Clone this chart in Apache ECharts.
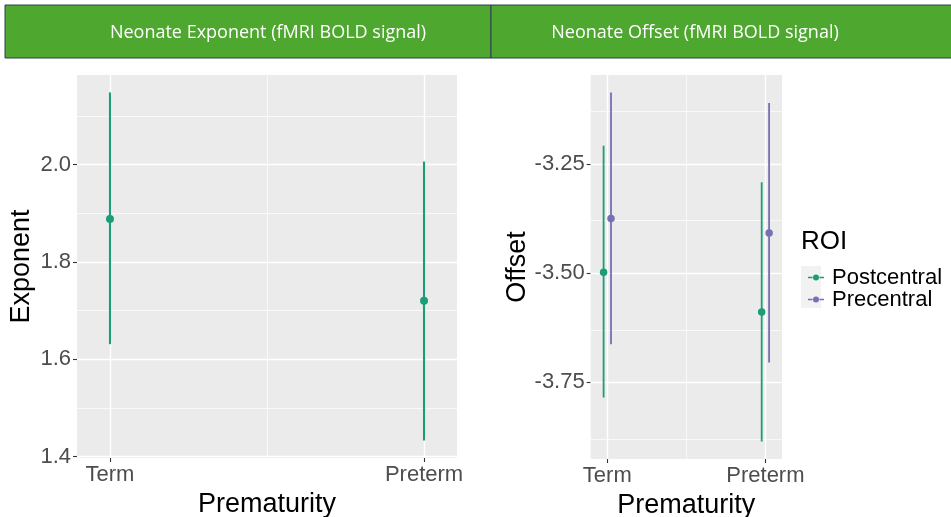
<!DOCTYPE html>
<html><head><meta charset="utf-8">
<script src="https://cdn.jsdelivr.net/npm/echarts@6/dist/echarts.min.js"></script>
<style>html,body{margin:0;padding:0;background:#fff;}#c{width:951px;height:517px;}</style>
</head><body><div id="c"></div>
<script>
// ---- data ----
const categories = ['Term', 'Preterm'];
const exponentMean = [1.888, 1.720];
const exponentLow = [1.631, 1.433];
const exponentHigh = [2.148, 2.006];
const roiNames = ['Postcentral', 'Precentral'];
const postcentralMean = [-3.498, -3.589];
const postcentralLow = [-3.785, -3.886];
const postcentralHigh = [-3.208, -3.292];
const precentralMean = [-3.375, -3.408];
const precentralLow = [-3.663, -3.705];
const precentralHigh = [-3.086, -3.110];
const exponentTicks = [1.4, 1.6, 1.8, 2.0];
const exponentMinor = [1.5, 1.7, 1.9, 2.1];
const offsetTicks = [-3.75, -3.5, -3.25];
const offsetMinor = [-3.875, -3.625, -3.375, -3.125];
const panelTitles = ['Neonate Exponent (fMRI BOLD signal)', 'Neonate Offset (fMRI BOLD signal)'];
const legendTitle = 'ROI';

// ---- styling ----
const GREEN = '#1B9E77', PURPLE = '#7570B3';
const FONT = 'Liberation Sans, Arial, sans-serif';
const xPos = categories.map((c, i) => i + 1);
const xMinor = [1.5];
const DODGE = 0.0234;

function expand(lo, hi) { const d = (hi - lo) * 0.05; return [lo - d, hi + d]; }
const expRange = expand(Math.min(...exponentLow), Math.max(...exponentHigh));
const offRange = expand(Math.min(...postcentralLow, ...precentralLow), Math.max(...postcentralHigh, ...precentralHigh));

function errRender(color, width) {
  return function (params, api) {
    const x = api.value(0), lo = api.value(1), hi = api.value(2);
    const p1 = api.coord([x, lo]), p2 = api.coord([x, hi]);
    return { type: 'line', shape: { x1: p1[0], y1: p1[1], x2: p2[0], y2: p2[1] },
      style: { stroke: color, lineWidth: width } };
  };
}
function gridLines(major, minor) {
  const d = [];
  major.forEach(v => d.push({ yAxis: v, lineStyle: { width: 1.4 } }));
  minor.forEach(v => d.push({ yAxis: v, lineStyle: { width: 0.7 } }));
  xPos.forEach(v => d.push({ xAxis: v, lineStyle: { width: 1.4 } }));
  xMinor.forEach(v => d.push({ xAxis: v, lineStyle: { width: 0.7 } }));
  return { silent: true, z: 1, symbol: ['none', 'none'], label: { show: false },
    lineStyle: { color: '#ffffff', type: 'solid' }, animation: false, data: d };
}
function xAxisCfg(gi) {
  return {
    type: 'value', gridIndex: gi, min: 0.895, max: 2.105,
    axisLine: { show: false }, splitLine: { show: false },
    axisTick: { show: true, customValues: xPos, length: 4, lineStyle: { color: '#333333', width: 1.1 } },
    axisLabel: { customValues: xPos, formatter: v => categories[Math.round(v) - 1], fontSize: 22,
      color: '#4d4d4d', margin: 6, fontFamily: FONT },
    name: 'Prematurity', nameLocation: 'middle', nameGap: 25,
    nameTextStyle: { fontSize: 27, color: '#000', fontFamily: FONT }
  };
}
function yAxisCfg(gi, range, ticks, name, gap, dec) {
  return {
    type: 'value', gridIndex: gi, min: range[0], max: range[1],
    axisLine: { show: false }, splitLine: { show: false },
    axisTick: { show: true, customValues: ticks, length: 4, lineStyle: { color: '#333333', width: 1.1 } },
    axisLabel: { customValues: ticks, formatter: v => v.toFixed(dec), fontSize: 22, color: '#4d4d4d',
      margin: 6, fontFamily: FONT },
    name: name, nameLocation: 'middle', nameGap: gap, nameRotate: 90,
    nameTextStyle: { fontSize: 27, color: '#000', fontFamily: FONT }
  };
}

const legendIcon = 'path://M0,2.2H4.6V3.8H0Z M11.4,2.2H16V3.8H11.4Z M5,3A3,3 0 1 1 11,3A3,3 0 1 1 5,3Z';

const option = {
  animation: false,
  backgroundColor: '#ffffff',
  grid: [
    { left: 77, top: 75, width: 380, height: 383, show: true, backgroundColor: '#EBEBEB', borderWidth: 0,
      containLabel: false, outerBoundsMode: 'none' },
    { left: 590.7, top: 75, width: 191.3, height: 384, show: true, backgroundColor: '#EBEBEB', borderWidth: 0,
      containLabel: false, outerBoundsMode: 'none' }
  ],
  xAxis: [xAxisCfg(0), xAxisCfg(1)],
  yAxis: [
    yAxisCfg(0, expRange, exponentTicks, 'Exponent', 42, 1),
    yAxisCfg(1, offRange, offsetTicks, 'Offset', 59, 2)
  ],
  legend: {
    orient: 'vertical', left: 803, top: 261.5, itemWidth: 16, itemHeight: 6, itemGap: 0,
    selectedMode: false,
    data: roiNames.map(n => ({ name: n, icon: legendIcon })),
    textStyle: { fontSize: 22, color: '#000', fontFamily: FONT, lineHeight: 18, padding: [0, 0, 0, 3] }
  },
  graphic: [
    { type: 'rect', shape: { x: 5, y: 5, width: 486, height: 53 }, style: { fill: '#4EA72E', stroke: '#2F3E4E', lineWidth: 1 } },
    { type: 'rect', shape: { x: 491, y: 5, width: 470, height: 53 }, style: { fill: '#4EA72E', stroke: '#2F3E4E', lineWidth: 1 } },
    { type: 'text', x: 268, y: 33, style: { text: panelTitles[0], fill: '#ffffff', font: '18px "Open Sans", sans-serif', textAlign: 'center', textVerticalAlign: 'middle' } },
    { type: 'text', x: 695, y: 33, style: { text: panelTitles[1], fill: '#ffffff', font: '18px "Open Sans", sans-serif', textAlign: 'center', textVerticalAlign: 'middle' } },
    { type: 'rect', shape: { x: 801, y: 266, width: 20, height: 42 }, style: { fill: '#F2F2F2' } },
    { type: 'text', x: 801, y: 242, style: { text: legendTitle, fill: '#000', font: '26px "Liberation Sans", Arial, sans-serif', textVerticalAlign: 'middle' } }
  ],
  series: [
    { type: 'scatter', xAxisIndex: 0, yAxisIndex: 0, data: [], z: 1, markLine: gridLines(exponentTicks, exponentMinor) },
    { type: 'scatter', xAxisIndex: 1, yAxisIndex: 1, data: [], z: 1, markLine: gridLines(offsetTicks, offsetMinor) },
    { type: 'custom', name: 'expErr', xAxisIndex: 0, yAxisIndex: 0, z: 6, renderItem: errRender(GREEN, 2.1),
      encode: { x: 0, y: [1, 2] }, data: xPos.map((x, i) => [x, exponentLow[i], exponentHigh[i]]) },
    { type: 'scatter', name: 'Exponent', xAxisIndex: 0, yAxisIndex: 0, z: 7, symbolSize: 8,
      itemStyle: { color: GREEN, opacity: 1 }, data: xPos.map((x, i) => [x, exponentMean[i]]) },
    { type: 'custom', name: 'postErr', xAxisIndex: 1, yAxisIndex: 1, z: 6, renderItem: errRender(GREEN, 1.8),
      encode: { x: 0, y: [1, 2] }, data: xPos.map((x, i) => [x - DODGE, postcentralLow[i], postcentralHigh[i]]) },
    { type: 'custom', name: 'preErr', xAxisIndex: 1, yAxisIndex: 1, z: 6, renderItem: errRender(PURPLE, 1.8),
      encode: { x: 0, y: [1, 2] }, data: xPos.map((x, i) => [x + DODGE, precentralLow[i], precentralHigh[i]]) },
    { type: 'scatter', name: roiNames[0], xAxisIndex: 1, yAxisIndex: 1, z: 7, symbolSize: 7.5,
      itemStyle: { color: GREEN, opacity: 1 }, data: xPos.map((x, i) => [x - DODGE, postcentralMean[i]]) },
    { type: 'scatter', name: roiNames[1], xAxisIndex: 1, yAxisIndex: 1, z: 7, symbolSize: 7.5,
      itemStyle: { color: PURPLE, opacity: 1 }, data: xPos.map((x, i) => [x + DODGE, precentralMean[i]]) }
  ]
};
const chart = echarts.init(document.getElementById('c'), null, { renderer: 'canvas' });
chart.setOption(option);
</script></body></html>
